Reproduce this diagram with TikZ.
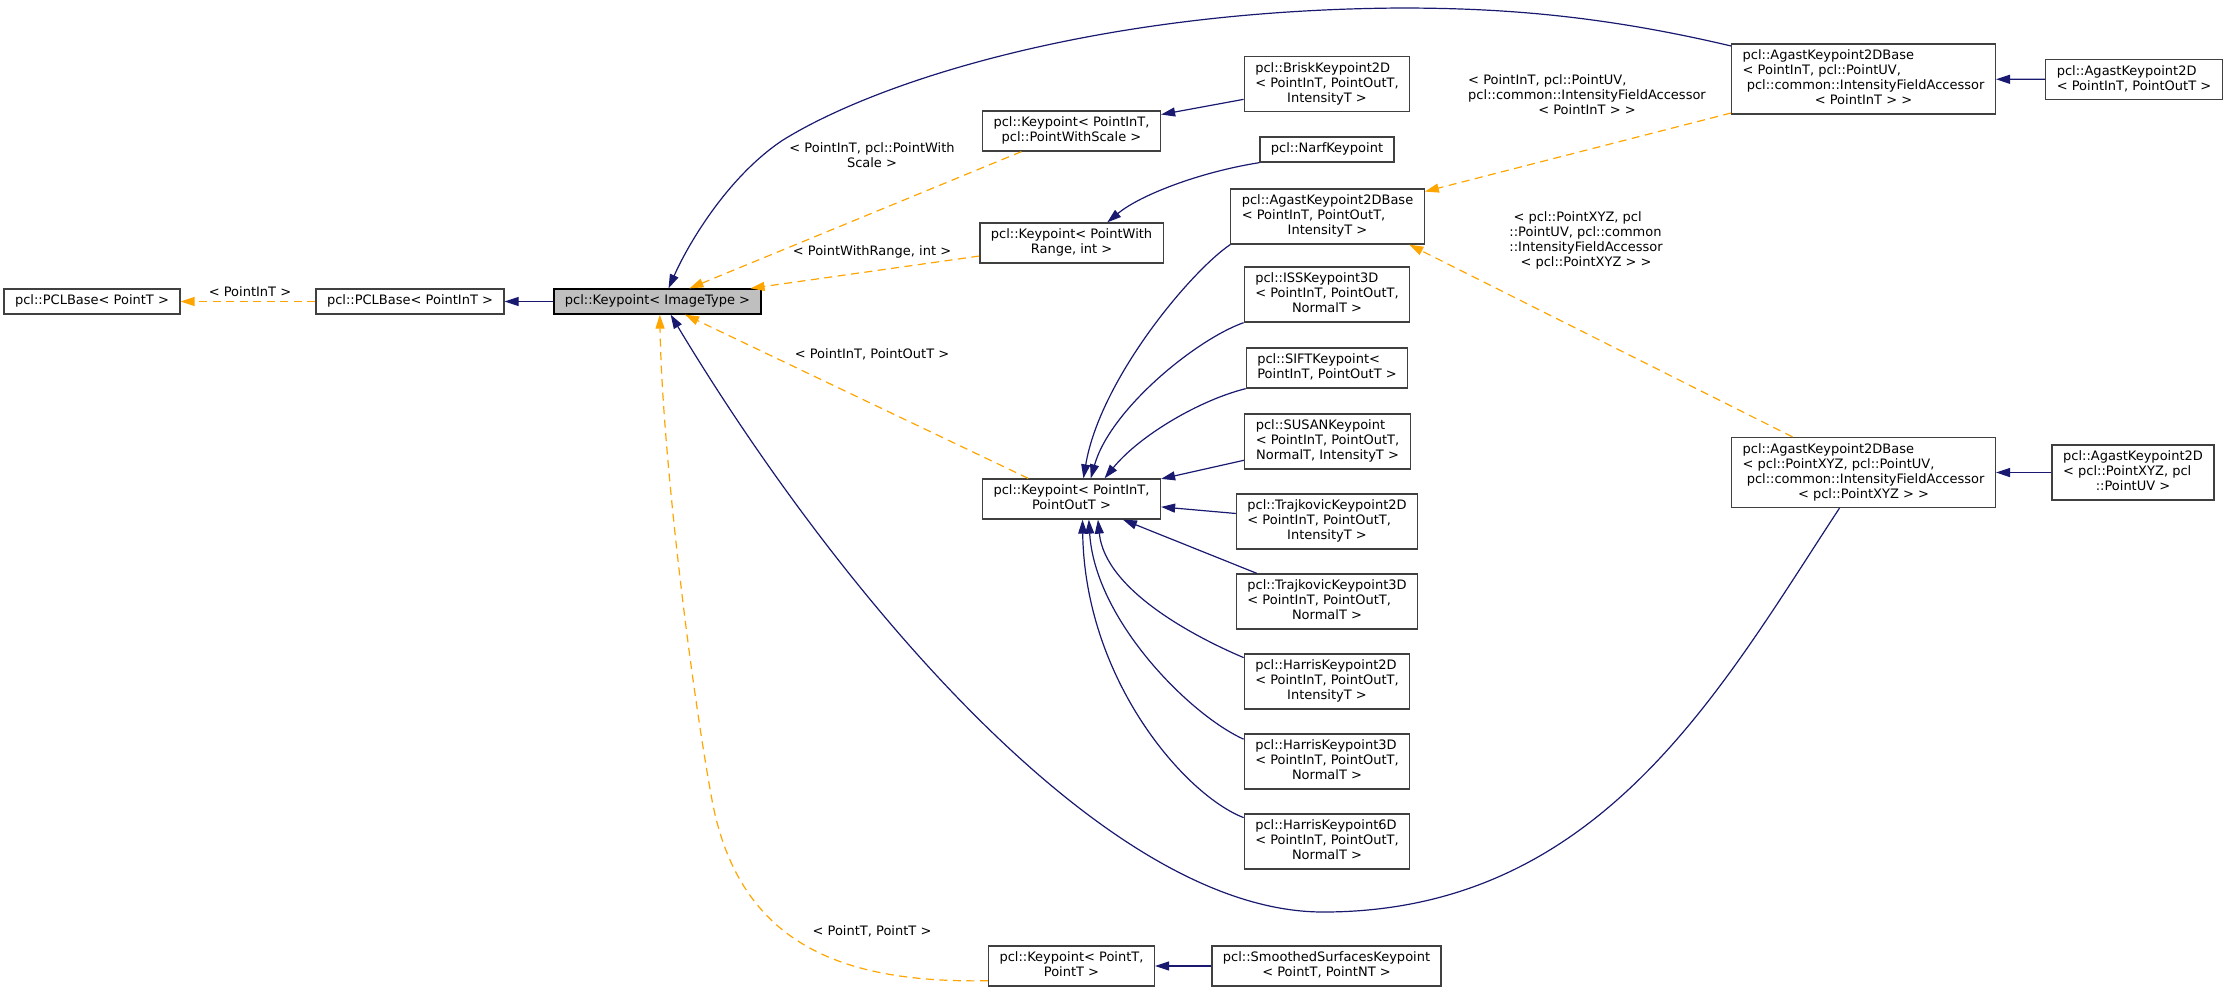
\documentclass[tikz,border=0pt]{standalone}
\usepackage{fontspec}
\setmainfont{DejaVu Sans}
\usepackage{tikz}
\usetikzlibrary{arrows.meta}

\definecolor{inhblue}{HTML}{191970}
\definecolor{tplorange}{HTML}{FFA500}
\definecolor{boxline}{HTML}{404040}
\definecolor{curgray}{HTML}{BFBFBF}

% class names: left lines, last line centred
\newcommand{\nodetext}[1]{\begin{tabular}{@{}l@{}}#1\end{tabular}}
\newcommand{\centerln}[1]{\multicolumn{1}{@{}c@{}}{#1}}

\begin{document}
\begin{tikzpicture}[font=\fontsize{0.13cm}{0.15cm}\selectfont,
		cls/.style={draw=boxline, fill=white, line width=0.013cm, inner xsep=0.11cm, inner ysep=0.05cm},
		cur/.style={cls, draw=black, fill=curgray},
		inh/.style={draw=inhblue, line width=0.012cm, -{Triangle[length=0.14cm, width=0.09cm]}},
		tpl/.style={draw=tplorange, line width=0.012cm, dash pattern=on 0.08cm off 0.055cm, -{Triangle[length=0.14cm, width=0.09cm]}},
		elabel/.style={inner sep=0pt}]
		\useasboundingbox (0,0) rectangle (22.28,-9.92);
		
		% Base chain (left)
		\node[cls] (pclbaset) at (0.92,-3.015) {\nodetext{pcl::PCLBase< PointT >}};
		\node[cls] (pclbasein) at (4.10,-3.015) {\nodetext{pcl::PCLBase< PointInT >}};
		\node[cur] (kpimage) at (6.575,-3.015) {\nodetext{pcl::Keypoint< ImageType >}};
		
		% Template instances (middle column)
		\node[cls] (kpscale) at (10.715,-1.31) {\nodetext{pcl::Keypoint< PointInT,\\ \centerln{pcl::PointWithScale >}}};
		\node[cls] (kprange) at (10.715,-2.43) {\nodetext{pcl::Keypoint< PointWith\\ \centerln{Range, int >}}};
		\node[cls] (kpinout) at (10.715,-4.99) {\nodetext{pcl::Keypoint< PointInT,\\ \centerln{PointOutT >}}};
		\node[cls] (kppoint) at (10.715,-9.66) {\nodetext{pcl::Keypoint< PointT,\\ \centerln{PointT >}}};
		
		% Derived classes (right column)
		\node[cls] (brisk) at (13.27,-0.84) {\nodetext{pcl::BriskKeypoint2D\\ < PointInT, PointOutT,\\ \centerln{IntensityT >}}};
		\node[cls] (narf) at (13.27,-1.495) {\nodetext{pcl::NarfKeypoint}};
		\node[cls] (agastbase) at (13.275,-2.165) {\nodetext{pcl::AgastKeypoint2DBase\\ < PointInT, PointOutT,\\ \centerln{IntensityT >}}};
		\node[cls] (iss) at (13.27,-2.945) {\nodetext{pcl::ISSKeypoint3D\\ < PointInT, PointOutT,\\ \centerln{NormalT >}}};
		\node[cls] (sift) at (13.27,-3.68) {\nodetext{pcl::SIFTKeypoint<\\ \centerln{PointInT, PointOutT >}}};
		\node[cls] (susan) at (13.275,-4.415) {\nodetext{pcl::SUSANKeypoint\\ < PointInT, PointOutT,\\ \centerln{NormalT, IntensityT >}}};
		\node[cls] (trajtwo) at (13.27,-5.215) {\nodetext{pcl::TrajkovicKeypoint2D\\ < PointInT, PointOutT,\\ \centerln{IntensityT >}}};
		\node[cls] (trajthree) at (13.27,-6.015) {\nodetext{pcl::TrajkovicKeypoint3D\\ < PointInT, PointOutT,\\ \centerln{NormalT >}}};
		\node[cls] (harristwo) at (13.27,-6.815) {\nodetext{pcl::HarrisKeypoint2D\\ < PointInT, PointOutT,\\ \centerln{IntensityT >}}};
		\node[cls] (harristhree) at (13.27,-7.615) {\nodetext{pcl::HarrisKeypoint3D\\ < PointInT, PointOutT,\\ \centerln{NormalT >}}};
		\node[cls] (harrissix) at (13.27,-8.415) {\nodetext{pcl::HarrisKeypoint6D\\ < PointInT, PointOutT,\\ \centerln{NormalT >}}};
		\node[cls] (smoothed) at (13.265,-9.66) {\nodetext{pcl::SmoothedSurfacesKeypoint\\ \centerln{< PointT, PointNT >}}};
		
		% Agast classes (far right)
		\node[cls] (agastuv) at (18.635,-0.79) {\nodetext{pcl::AgastKeypoint2DBase\\ < PointInT, pcl::PointUV,\\ \ pcl::common::IntensityFieldAccessor\\ \centerln{< PointInT > >}}};
		\node[cls] (agastin) at (21.34,-0.795) {\nodetext{pcl::AgastKeypoint2D\\ \centerln{< PointInT, PointOutT >}}};
		\node[cls] (agastxyz) at (18.635,-4.725) {\nodetext{pcl::AgastKeypoint2DBase\\ < pcl::PointXYZ, pcl::PointUV,\\ \ pcl::common::IntensityFieldAccessor\\ \centerln{< pcl::PointXYZ > >}}};
		\node[cls] (agastpcl) at (21.33,-4.725) {\nodetext{pcl::AgastKeypoint2D\\ < pcl::PointXYZ, pcl\\ \centerln{::PointUV >}}};
		
		% Edge labels
		\node[elabel] (lpointin) at (2.50,-2.93) {\nodetext{< PointInT >}};
		\node[elabel] (lscale) at (8.72,-1.57) {\nodetext{< PointInT, pcl::PointWith\\ \centerln{Scale >}}};
		\node[elabel] (lrange) at (8.72,-2.52) {\nodetext{< PointWithRange, int >}};
		\node[elabel] (linout) at (8.72,-3.55) {\nodetext{< PointInT, PointOutT >}};
		\node[elabel] (lpoint) at (8.72,-9.32) {\nodetext{< PointT, PointT >}};
		\node[elabel] (luv) at (15.87,-0.96) {\nodetext{< PointInT, pcl::PointUV,\\ pcl::common::IntensityFieldAccessor\\ \centerln{< PointInT > >}}};
		\node[elabel] (lxyz) at (15.86,-2.41) {\nodetext{\ < pcl::PointXYZ, pcl\\ ::PointUV, pcl::common\\ ::IntensityFieldAccessor\\ \centerln{< pcl::PointXYZ > >}}};
		
		% Inheritance
		\draw[inh] (kpimage) -- (pclbasein);
		\draw[inh] (brisk) -- (kpscale);
		\draw[inh] (narf.south west) .. controls (12.00,-1.72) and (11.40,-1.95) .. (kprange.30);
		\draw[inh] (agastin) -- (agastuv);
		\draw[inh] (agastpcl) -- (agastxyz);
		\draw[inh] (smoothed) -- (kppoint);
		\draw[inh] (agastuv.166) .. controls (16.00,-0.15) and (15.00,-0.08) .. (14.00,-0.08)
			.. controls (11.00,-0.10) and (8.80,-0.80) .. (7.83,-1.40)
			.. controls (7.30,-1.75) and (6.90,-2.40) .. (kpimage.50);
		\draw[inh] (agastxyz.-124) .. controls (17.20,-6.90) and (16.00,-9.12) .. (13.23,-9.12)
			.. controls (11.00,-9.12) and (8.30,-5.80) .. (kpimage.-45);
		
		% Children of Keypoint< PointInT, PointOutT >
		\draw[inh] (agastbase.south west) .. controls (11.90,-2.72) and (11.00,-3.80) .. (kpinout.60);
		\draw[inh] (iss.south west) .. controls (11.95,-3.40) and (11.10,-4.10) .. (kpinout.47);
		\draw[inh] (sift.south west) .. controls (12.00,-4.00) and (11.40,-4.35) .. (kpinout.32);
		\draw[inh] (susan) -- (kpinout);
		\draw[inh] (trajtwo) -- (kpinout);
		\draw[inh] (trajthree) -- (kpinout);
		\draw[inh] (harristwo.164) .. controls (11.95,-6.37) and (11.05,-5.90) .. (kpinout.-38);
		\draw[inh] (harristhree.165) .. controls (11.90,-7.15) and (10.95,-6.20) .. (kpinout.-50);
		\draw[inh] (harrissix.164) .. controls (11.85,-7.95) and (10.85,-6.80) .. (kpinout.-62);
		
		% Template instantiation
		\draw[tpl] (pclbasein) -- (pclbaset);
		\draw[tpl] (kpscale) -- (kpimage);
		\draw[tpl] (kprange) -- (kpimage);
		\draw[tpl] (kpinout) -- (kpimage);
		\draw[tpl] (kppoint.190) .. controls (8.50,-9.83) and (7.40,-9.50) .. (7.12,-8.00)
			.. controls (6.90,-6.80) and (6.62,-4.50) .. (kpimage.-80);
		\draw[tpl] (agastuv) -- (agastbase);
		\draw[tpl] (agastxyz) -- (agastbase.-19);
	\end{tikzpicture}
\end{document}
